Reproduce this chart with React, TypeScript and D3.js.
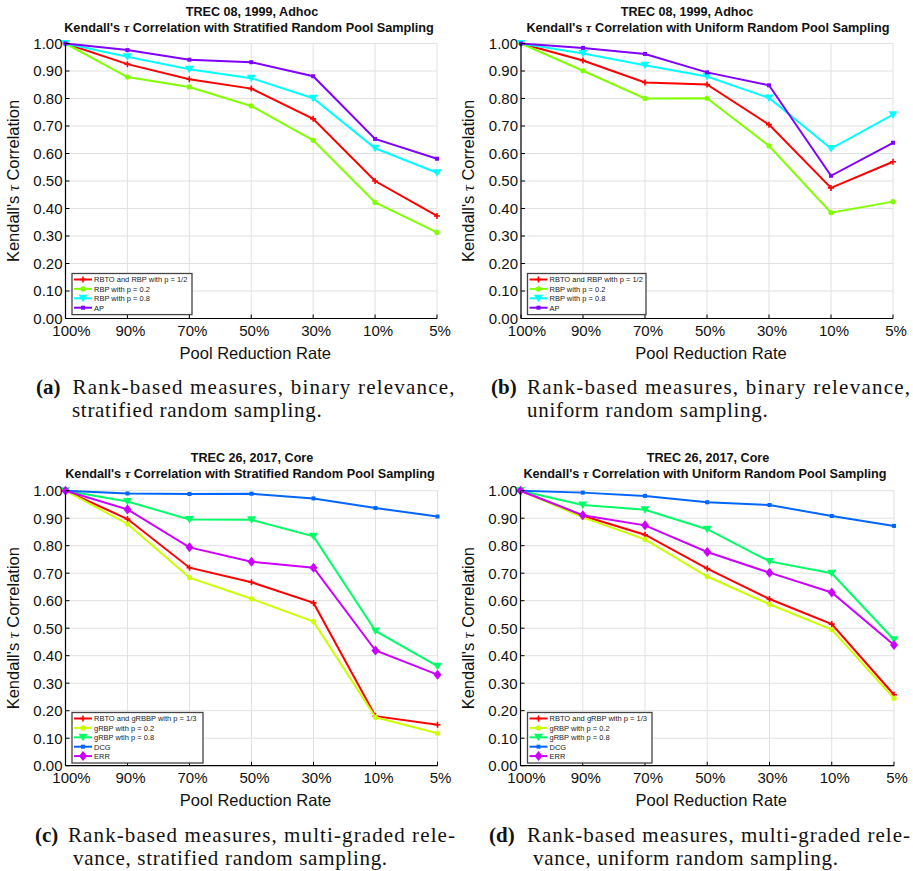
import React from 'react';
import * as d3 from 'd3';

// pool reduction rates (x categories)
const rates = ['100%', '90%', '70%', '50%', '30%', '10%', '5%'];
const yTickValues = [0, 0.1, 0.2, 0.3, 0.4, 0.5, 0.6, 0.7, 0.8, 0.9, 1.0];

// (a) TREC 08, stratified
const aRbp05 = [1.0, 0.925, 0.87, 0.836, 0.726, 0.5, 0.373];
const aRbp02 = [1.0, 0.878, 0.842, 0.773, 0.648, 0.422, 0.313];
const aRbp08 = [1.0, 0.952, 0.906, 0.874, 0.801, 0.619, 0.53];
const aAp = [1.0, 0.976, 0.941, 0.932, 0.881, 0.653, 0.581];

// (b) TREC 08, uniform
const bRbp05 = [1.0, 0.938, 0.858, 0.851, 0.705, 0.475, 0.57];
const bRbp02 = [1.0, 0.901, 0.8, 0.801, 0.628, 0.385, 0.425];
const bRbp08 = [1.0, 0.964, 0.921, 0.88, 0.802, 0.618, 0.741];
const bAp = [1.0, 0.984, 0.962, 0.895, 0.848, 0.519, 0.639];

// (c) TREC 26, stratified
const cRbp13 = [1.0, 0.897, 0.72, 0.667, 0.592, 0.18, 0.149];
const cRbp02 = [1.0, 0.879, 0.684, 0.607, 0.524, 0.176, 0.118];
const cRbp08 = [1.0, 0.961, 0.895, 0.894, 0.834, 0.49, 0.362];
const cDcg = [1.0, 0.99, 0.988, 0.989, 0.972, 0.937, 0.906];
const cErr = [1.0, 0.932, 0.794, 0.742, 0.72, 0.419, 0.331];

// (d) TREC 26, uniform
const dRbp13 = [1.0, 0.909, 0.84, 0.717, 0.606, 0.515, 0.258];
const dRbp02 = [1.0, 0.903, 0.823, 0.688, 0.587, 0.495, 0.245];
const dRbp08 = [1.0, 0.948, 0.931, 0.86, 0.743, 0.7, 0.458];
const dDcg = [1.0, 0.993, 0.981, 0.958, 0.948, 0.908, 0.872];
const dErr = [1.0, 0.911, 0.874, 0.777, 0.702, 0.63, 0.439];

const binaryNames = ['RBTO and RBP with p = 1/2', 'RBP with p = 0.2', 'RBP with p = 0.8', 'AP'];
const binaryColors = ['#ff0000', '#80ff00', '#00ffff', '#8000ff'];
const binaryMarkers = ['plus', 'circle', 'tri', 'square'];

const gradedNamesC = ['RBTO and gRBBP with p = 1/3', 'gRBP with p = 0.2', 'gRBP wtih p = 0.8', 'DCG', 'ERR'];
const gradedNamesD = ['RBTO and gRBP with p = 1/3', 'gRBP with p = 0.2', 'gRBP with p = 0.8', 'DCG', 'ERR'];
const gradedColors = ['#ff0000', '#ccff00', '#00ff66', '#0066ff', '#cc00ff'];
const gradedMarkers = ['plus', 'circle', 'tri', 'square', 'diamond'];

const SANS = '"Liberation Sans", Arial, sans-serif';
const SERIF = '"Liberation Serif", "Times New Roman", serif';

const Marker = ({ type, x, y, color }) => {
  if (type === 'plus')
    return <path d={`M${x - 3},${y}H${x + 3}M${x},${y - 3}V${y + 3}`} stroke={color} strokeWidth={1.6} />;
  if (type === 'circle') return <circle cx={x} cy={y} r={2.6} fill={color} />;
  if (type === 'tri')
    return <path d={`M${x - 4.5},${y - 3.5}L${x + 4.5},${y - 3.5}L${x},${y + 4}Z`} fill={color} />;
  if (type === 'square') return <rect x={x - 2} y={y - 2} width={4} height={4} fill={color} />;
  return <path d={`M${x},${y - 5}L${x + 4},${y}L${x},${y + 5}L${x - 4},${y}Z`} fill={color} />;
};

const Panel = ({ p }) => {
  const x = d3.scalePoint().domain(rates).range([p.left, p.right]);
  const y = d3.scaleLinear().domain([0, 1]).range([p.bottom, p.top]);
  const line = d3
    .line()
    .x((d, i) => x(rates[i]))
    .y((d) => y(d));
  const midY = (p.top + p.bottom) / 2;
  const lg = p.legend;

  return (
    <g>
      {/* grid */}
      {yTickValues.map((v) => (
        <line key={'gy' + v} x1={p.left} x2={p.right} y1={y(v)} y2={y(v)} stroke="#e1e1e1" strokeWidth={1} />
      ))}
      {rates.map((r) => (
        <line key={'gx' + r} x1={x(r)} x2={x(r)} y1={p.top} y2={p.bottom} stroke="#e1e1e1" strokeWidth={1} />
      ))}

      {/* series */}
      {p.series.map((s, i) => (
        <g key={'s' + i}>
          <path d={line(s)} fill="none" stroke={p.colors[i]} strokeWidth={2} />
          {s.map((v, j) => (
            <Marker key={j} type={p.markers[i]} x={x(rates[j])} y={y(v)} color={p.colors[i]} />
          ))}
        </g>
      ))}

      {/* axes */}
      <line x1={p.left} x2={p.left} y1={p.top} y2={p.bottom} stroke="#000" strokeWidth={1.2} />
      <line x1={p.left} x2={p.right} y1={p.bottom} y2={p.bottom} stroke="#000" strokeWidth={1.2} />
      {yTickValues.map((v) => (
        <g key={'ty' + v}>
          <line x1={p.left} x2={p.left + 4} y1={y(v)} y2={y(v)} stroke="#000" />
          <text x={p.left - 3} y={y(v) + 5.3} textAnchor="end" fontFamily={SANS} fontSize={15} fill="#111">
            {v.toFixed(2)}
          </text>
        </g>
      ))}
      {rates.map((r, i) => (
        <g key={'tx' + r}>
          <line x1={x(r)} x2={x(r)} y1={p.bottom} y2={p.bottom - 4} stroke="#000" />
          <text x={x(r) + (i === 0 ? 6 : 3)} y={p.bottom + 17.5} textAnchor="middle" fontFamily={SANS} fontSize={15} fill="#111">
            {r}
          </text>
        </g>
      ))}

      {/* axis labels */}
      <text
        transform={`translate(${p.left - 47},${midY}) rotate(-90)`}
        textAnchor="middle"
        fontFamily={SANS}
        fontSize={16.5}
        fill="#111"
      >
        Kendall's <tspan fontFamily={SERIF} fontStyle="italic">τ</tspan> Correlation
      </text>
      <text x={(p.left + p.right) / 2 + 4} y={p.bottom + 40} textAnchor="middle" fontFamily={SANS} fontSize={16.5} fill="#111">
        Pool Reduction Rate
      </text>

      {/* titles */}
      <text x={p.t1x} y={p.titleY} textAnchor="middle" fontFamily={SANS} fontWeight="bold" fontSize={12.6} fill="#111">
        {p.title1}
      </text>
      <text x={p.t2x} y={p.titleY + 16.3} textAnchor="middle" fontFamily={SANS} fontWeight="bold" fontSize={12.7} fill="#111">
        Kendall's <tspan fontFamily={SERIF} fontStyle="italic">τ</tspan> {p.title2}
      </text>

      {/* legend */}
      <rect x={lg.x} y={lg.y} width={lg.w} height={p.names.length * 9.4 + 3.5} fill="#fff" stroke="#444" strokeWidth={1.3} />
      {p.names.map((n, i) => {
        const ly = lg.y + 6 + i * 9.4;
        return (
          <g key={'l' + i}>
            <line x1={lg.x + 2} x2={lg.x + 20} y1={ly} y2={ly} stroke={p.colors[i]} strokeWidth={2} />
            <Marker type={p.markers[i]} x={lg.x + 11} y={ly} color={p.colors[i]} />
            <text x={lg.x + 22} y={ly + 2.8} fontFamily={SANS} fontSize={7.5} fill="#222">
              {n}
            </text>
          </g>
        );
      })}

      {/* caption */}
      <text x={p.cap.lx} y={p.cap.y} fontFamily={SERIF} fontWeight="bold" fontSize={21} fill="#111">
        ({p.cap.letter})
      </text>
      <text x={p.cap.x1} y={p.cap.y} fontFamily={SERIF} fontSize={21} fill="#111" textLength={p.cap.w1} lengthAdjust="spacing">
        {p.cap.line1}
      </text>
      <text x={p.cap.x2} y={p.cap.y + 23} fontFamily={SERIF} fontSize={21} fill="#111" letterSpacing={0.7}>
        {p.cap.line2}
      </text>
    </g>
  );
};

const panels = [
  {
    left: 65.5, right: 437, top: 43.5, bottom: 318.5,
    titleY: 16, t1x: 252, t2x: 249,
    title1: 'TREC 08, 1999, Adhoc', title2: 'Correlation with Stratified Random Pool Sampling',
    series: [aRbp05, aRbp02, aRbp08, aAp], names: binaryNames, colors: binaryColors, markers: binaryMarkers,
    legend: { x: 72, y: 273.5, w: 120 },
    cap: { letter: 'a', lx: 36, x1: 72.5, w1: 382, x2: 72, y: 394, line1: 'Rank-based measures, binary relevance,', line2: 'stratified random sampling.' },
  },
  {
    left: 521, right: 893, top: 43.5, bottom: 318.5,
    titleY: 16, t1x: 687, t2x: 708,
    title1: 'TREC 08, 1999, Adhoc', title2: 'Correlation with Uniform Random Pool Sampling',
    series: [bRbp05, bRbp02, bRbp08, bAp], names: binaryNames, colors: binaryColors, markers: binaryMarkers,
    legend: { x: 527.5, y: 273.5, w: 118.5 },
    cap: { letter: 'b', lx: 491, x1: 527, w1: 383, x2: 527, y: 394, line1: 'Rank-based measures, binary relevance,', line2: 'uniform random sampling.' },
  },
  {
    left: 65.5, right: 437.5, top: 490.7, bottom: 765.7,
    titleY: 462, t1x: 252, t2x: 250,
    title1: 'TREC 26, 2017, Core', title2: 'Correlation with Stratified Random Pool Sampling',
    series: [cRbp13, cRbp02, cRbp08, cDcg, cErr], names: gradedNamesC, colors: gradedColors, markers: gradedMarkers,
    legend: { x: 72, y: 712.5, w: 131 },
    cap: { letter: 'c', lx: 35, x1: 68, w1: 387, x2: 73, y: 842, line1: 'Rank-based measures, multi-graded rele-', line2: 'vance, stratified random sampling.' },
  },
  {
    left: 520.5, right: 894, top: 490.7, bottom: 765.7,
    titleY: 462, t1x: 708, t2x: 705,
    title1: 'TREC 26, 2017, Core', title2: 'Correlation with Uniform Random Pool Sampling',
    series: [dRbp13, dRbp02, dRbp08, dDcg, dErr], names: gradedNamesD, colors: gradedColors, markers: gradedMarkers,
    legend: { x: 527.5, y: 712.5, w: 124.5 },
    cap: { letter: 'd', lx: 489, x1: 527, w1: 383, x2: 533, y: 842, line1: 'Rank-based measures, multi-graded rele-', line2: 'vance, uniform random sampling.' },
  },
];

export default function App() {
  return (
    <svg width={913} height={871} style={{ position: 'absolute', left: 0, top: 0, background: '#fff' }}>
      <rect width={913} height={871} fill="#fff" />
      {panels.map((p, i) => (
        <Panel key={i} p={p} />
      ))}
    </svg>
  );
}
